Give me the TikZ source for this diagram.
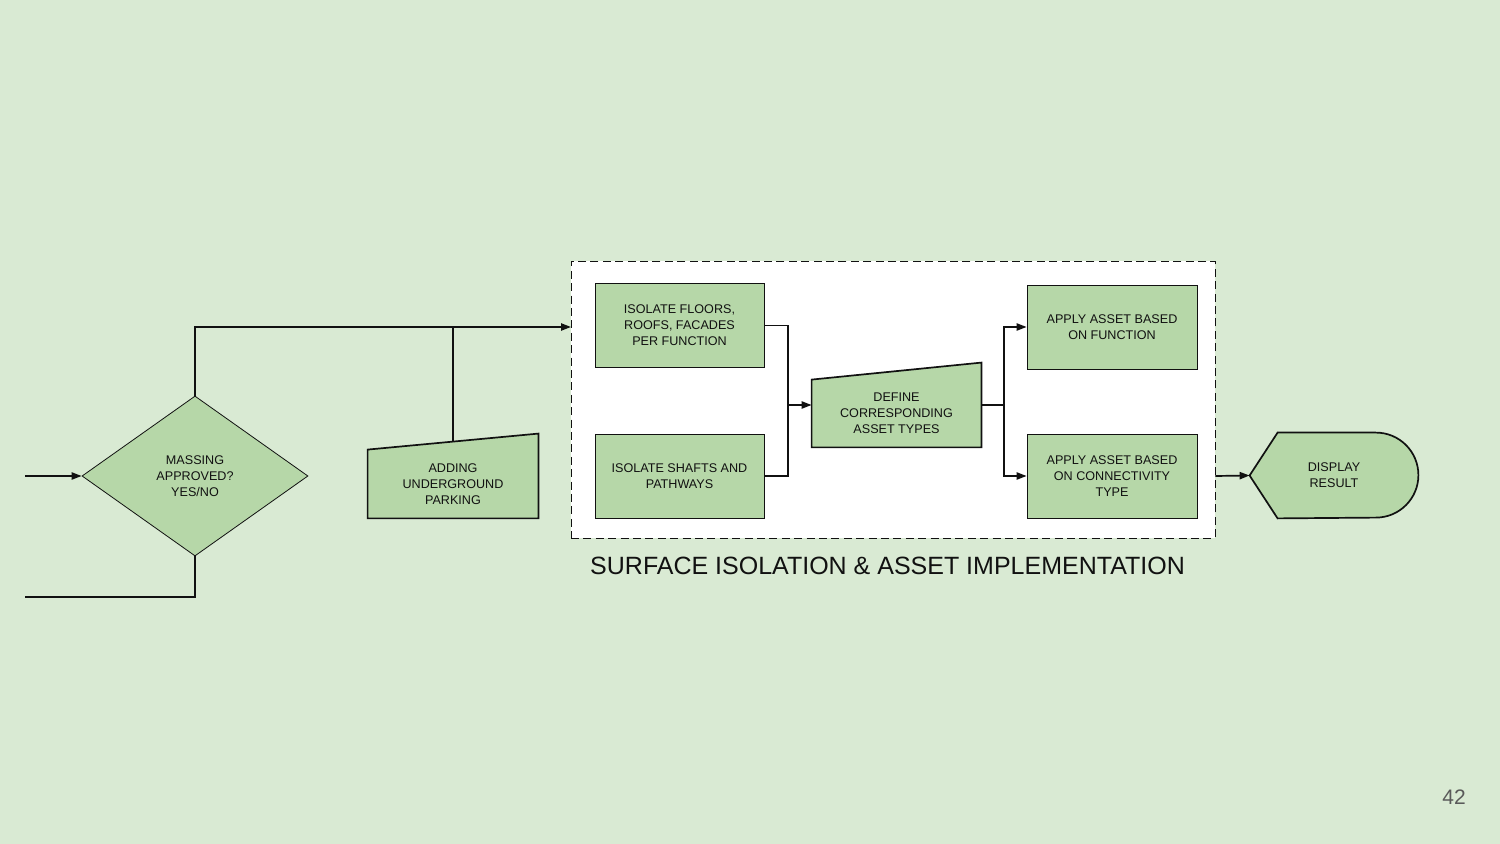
\documentclass[tikz,border=0pt]{standalone}
\usepackage{fontspec}
\setmainfont{Liberation Sans}
\usetikzlibrary{shapes.geometric,arrows.meta,calc}
\definecolor{pagebg}{HTML}{D9EAD3}
\definecolor{boxfill}{HTML}{B6D7A8}
\definecolor{ink}{HTML}{111111}
\definecolor{pagenum}{HTML}{595959}
\pgfdeclarelayer{back}
\pgfdeclarelayer{mid}
\pgfsetlayers{back,mid,main}
\begin{document}
\begin{tikzpicture}[x=0.5pt,y=-0.5pt,
  line width=0.85pt,
  txt/.style={font=\fontsize{6.3}{8}\selectfont, align=center, text=ink},
  proc/.style={txt, draw=ink, fill=boxfill, rectangle, minimum width=84.5pt, minimum height=42pt, inner sep=0pt},
  shapebox/.style={txt, minimum width=85pt, inner sep=0pt},
  conn/.style={draw=ink, line width=0.85pt},
  arr/.style={conn, -{Triangle[length=5pt,width=3.6pt]}},
  shp/.style={draw=ink, fill=boxfill, line width=0.85pt, line join=miter}
]
\begin{pgfonlayer}{back}
\fill[pagebg] (0,0) rectangle (1500,844);
\node[draw=ink, dash pattern=on 4pt off 2.2pt, fill=white, minimum width=322pt, minimum height=138.5pt, inner sep=0pt] (grp) at (893,399.5) {};
\end{pgfonlayer}
\useasboundingbox (0,0) rectangle (1500,844);

% decision
\node[txt, diamond, draw=ink, fill=boxfill, minimum width=113pt, minimum height=80pt, inner sep=0pt] (dia) at (195,476) {MASSING\\APPROVED?\\YES/NO};

% parking (manual input)
\node[shapebox, minimum height=34pt] (park) at (453,484) {ADDING\\UNDERGROUND\\PARKING};
\begin{pgfonlayer}{mid}
\draw[shp] (park.south west) -- (park.south east) -- ([yshift=8pt]park.north east) -- (park.north west) -- cycle;
\end{pgfonlayer}

% process boxes
\node[proc] (iso1) at (679.5,325.5) {ISOLATE FLOORS,\\ROOFS, FACADES\\PER FUNCTION};
\node[proc] (iso2) at (679.5,476) {ISOLATE SHAFTS AND\\PATHWAYS};

\node[shapebox, minimum width=84.5pt, minimum height=33.5pt] (def) at (896.5,413.5) {DEFINE\\CORRESPONDING\\ASSET TYPES};
\begin{pgfonlayer}{mid}
\draw[shp] (def.south west) -- (def.south east) -- ([yshift=8.5pt]def.north east) -- (def.north west) -- cycle;
\end{pgfonlayer}

\node[proc, minimum width=85pt] (app1) at (1112,327) {APPLY ASSET BASED\\ON FUNCTION};
\node[proc, minimum width=85pt] (app2) at (1112,476) {APPLY ASSET BASED\\ON CONNECTIVITY\\TYPE};

% display
\node[shapebox, minimum width=84pt, minimum height=42.5pt] (disp) at (1334,475.5) {DISPLAY\\RESULT};
\begin{pgfonlayer}{mid}
\draw[shp] (disp.west) -- ([xshift=14pt]disp.north west) -- ([xshift=-21.25pt]disp.north east)
  arc[start angle=90, end angle=-90, radius=21.25pt] -- ([xshift=14pt]disp.south west) -- cycle;
\end{pgfonlayer}

% texts
\node[font=\fontsize{12.5}{14}\selectfont, text=ink] (title) at (887.5,566) {SURFACE ISOLATION \& ASSET IMPLEMENTATION};
\node[font=\fontsize{10.5}{12}\selectfont, text=pagenum] (pg) at (1454,797) {42};

% connectors
\coordinate (inL) at (25,476);
\coordinate (outL) at (25,597);
\coordinate (gin) at (571,327);
\coordinate (ptop) at ($(park.north)+(0,4pt)$);
\coordinate (j1) at (788,405);
\coordinate (j2) at (1004,405);

\draw[arr] (inL) -- (dia.west);
\draw[conn] (dia.south) |- (outL);
\draw[arr] (dia.north) |- (gin);
\draw[conn] (ptop) -- (ptop |- gin);
\draw[conn] (iso1.east) -| (j1);
\draw[conn] (iso2.east) -| (j1);
\draw[arr] (j1) -- (j1 -| def.west);
\draw[conn] (j2 -| def.east) -- (j2);
\draw[arr] (j2) |- (app1.west);
\draw[arr] (j2) |- (app2.west);
\draw[arr] (grp.east |- app2.east) -- (disp.west);
\end{tikzpicture}
\end{document}
